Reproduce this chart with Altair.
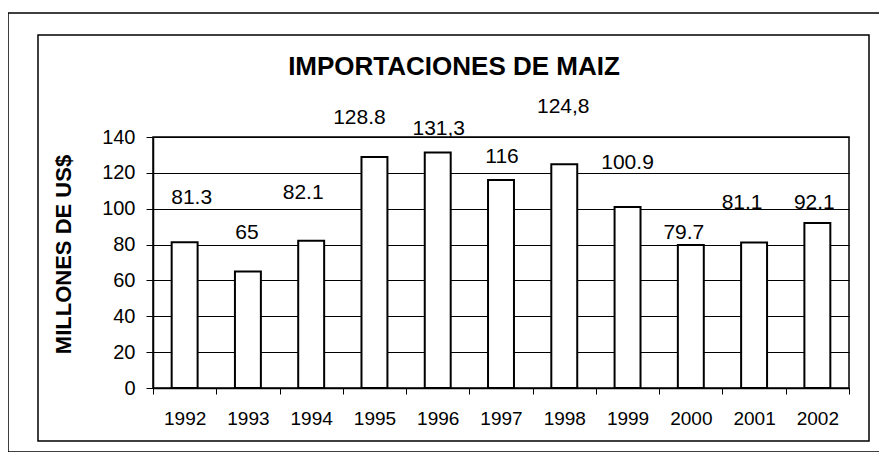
import altair as alt
import pandas as pd

# ---- data ----
years = ["1992", "1993", "1994", "1995", "1996", "1997", "1998", "1999", "2000", "2001", "2002"]
values = [81.3, 65, 82.1, 128.8, 131.3, 116, 124.8, 100.9, 79.7, 81.1, 92.1]
value_text = ["81.3", "65", "82.1", "128.8", "131,3", "116", "124,8", "100.9", "79.7", "81.1", "92.1"]
y_ticks = [0, 20, 40, 60, 80, 100, 120, 140]
title_text = "IMPORTACIONES DE MAIZ"
y_title = "MILLONES DE US$"

# ---- layout of the value labels as they sit in the original (axis units / px) ----
label_level = [106, 86.4, 108.8, 150.6, 144.5, 128.8, 156.7, 125.5, 86.4, 103.2, 103.2]
label_dx = [7, -1, -8, -15, 1, 1, -1, 0, -7, -12, -3]

FONT = "Liberation Sans"
W, H = 696, 251

df = pd.DataFrame({"year": years, "value": values, "label": value_text, "level": label_level})

x_axis = alt.Axis(title=None, labelAngle=0, tickBand="extent", tickSize=6,
                  tickColor="black", domainColor="black", domainWidth=1.5,
                  labelFont=FONT, labelFontSize=19, labelColor="black",
                  labelPadding=15)
x_scale = alt.Scale(paddingInner=0, paddingOuter=0)
y_axis = alt.Axis(values=y_ticks, grid=True, gridColor="black", gridWidth=1,
                  labelOverlap=False,
                  tickSize=7, tickColor="black", domainColor="black", domainWidth=1.5,
                  labelFont=FONT, labelFontSize=20, labelColor="black", labelPadding=11,
                  title=y_title, titleFont=FONT, titleFontSize=22, titleFontWeight="bold",
                  titleColor="black", titleAngle=270, titleX=-90, titleY=117,
                  titleAlign="center", titleBaseline="middle")
y_scale = alt.Scale(domain=[0, 140], nice=False)

bars = alt.Chart(df).mark_bar(
    width=alt.RelativeBandSize(0.41), fill="white", stroke="black", strokeWidth=2
).encode(
    x=alt.X("year:N", sort=years, scale=x_scale, axis=x_axis),
    y=alt.Y("value:Q", scale=y_scale, axis=y_axis),
)

label_layers = []
for yr, dx in zip(years, label_dx):
    label_layers.append(
        alt.Chart(df).transform_filter(alt.datum.year == yr).mark_text(
            font=FONT, fontSize=21, color="black", baseline="middle", dx=dx
        ).encode(
            x=alt.X("year:N", sort=years, scale=x_scale, axis=x_axis),
            y=alt.Y("level:Q", scale=y_scale, axis=y_axis),
            text="label:N",
        )
    )

one = pd.DataFrame({"k": [0]})
inner_frame = alt.Chart(one).mark_rect(filled=False, stroke="black", strokeWidth=1.5).encode(
    x=alt.value(-115), x2=alt.value(716), y=alt.value(-102), y2=alt.value(304)
)
outer_frame = alt.Chart(one).mark_rect(filled=False, stroke="black", strokeWidth=1.5).encode(
    x=alt.value(-145), x2=alt.value(800), y=alt.value(-124), y2=alt.value(315)
)
title = alt.Chart(one).mark_text(
    text=title_text, font=FONT, fontSize=26, fontWeight="bold", color="black",
    align="center", baseline="middle"
).encode(x=alt.value(301), y=alt.value(-70))

chart = alt.layer(bars, *label_layers, outer_frame, inner_frame, title).properties(
    width=W, height=H,
    autosize=alt.AutoSizeParams(type="none"),
    padding={"left": 145, "top": 129, "right": 30, "bottom": 64},
    background="white",
).configure_view(stroke="black", strokeWidth=1.5)

chart.save("out.html", embed_options={"renderer": "svg", "actions": False})
